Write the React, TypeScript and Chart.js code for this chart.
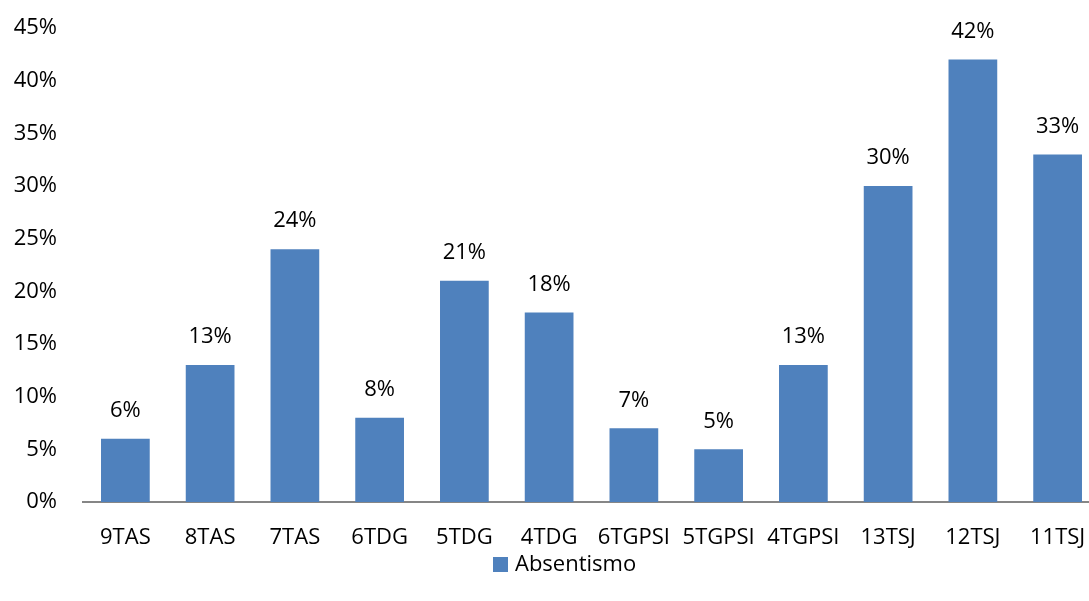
import React, { useEffect, useRef } from "react";
import { Chart, registerables } from "chart.js";

Chart.register(...registerables);

const categories = ["9TAS", "8TAS", "7TAS", "6TDG", "5TDG", "4TDG", "6TGPSI", "5TGPSI", "4TGPSI", "13TSJ", "12TSJ", "11TSJ"];
const absentismo = [6, 13, 24, 8, 21, 18, 7, 5, 13, 30, 42, 33];
const seriesName = "Absentismo";
const yTicks = [0, 5, 10, 15, 20, 25, 30, 35, 40, 45];

const FONT = "'Open Sans', 'Noto Sans', sans-serif";
const FS = 22;
const BAR_COLOR = "#4f81bd";

const dataLabels = {
  id: "dataLabels",
  afterDatasetsDraw(chart: any) {
    const ctx = chart.ctx;
    const meta = chart.getDatasetMeta(0);
    ctx.save();
    ctx.font = `${FS}px ${FONT}`;
    ctx.fillStyle = "#000";
    ctx.textAlign = "center";
    ctx.textBaseline = "middle";
    meta.data.forEach((bar: any, i: number) => {
      ctx.fillText(absentismo[i] + "%", bar.x, bar.y - 28);
    });
    ctx.restore();
  },
};

const bottomLegend = {
  id: "bottomLegend",
  afterDraw(chart: any) {
    const ctx = chart.ctx;
    const ds = chart.data.datasets[0];
    ctx.save();
    ctx.font = `${FS}px ${FONT}`;
    const x0 = 493;
    const yc = 565;
    ctx.fillStyle = ds.backgroundColor;
    ctx.fillRect(x0, yc - 8, 15, 15);
    ctx.fillStyle = "#000";
    ctx.textAlign = "left";
    ctx.textBaseline = "middle";
    ctx.fillText(ds.label, x0 + 22, yc);
    ctx.restore();
  },
};

export default function App() {
  const ref = useRef<HTMLCanvasElement>(null);
  useEffect(() => {
    document.body.style.margin = "0";
    document.body.style.overflow = "hidden";
    const chart = new Chart(ref.current!, {
      type: "bar",
      data: {
        labels: categories,
        datasets: [
          {
            label: seriesName,
            data: absentismo,
            backgroundColor: BAR_COLOR,
            borderWidth: 0,
            barPercentage: 0.575,
            categoryPercentage: 1,
          },
        ],
      },
      options: {
        animation: false,
        responsive: false,
        maintainAspectRatio: false,
        layout: { padding: { top: 28, right: 0, left: 0, bottom: 45 } },
        plugins: {
          legend: { display: false },
          tooltip: { enabled: false },
        },
        scales: {
          x: {
            grid: { display: false, drawTicks: false },
            border: { display: true, color: "#868686", width: 2 },
            ticks: { font: { family: FONT, size: FS }, color: "#000", padding: 23, maxRotation: 0 },
            afterFit: (s: any) => { s.height = 54; s.paddingLeft = 0; s.paddingRight = 0; },
          },
          y: {
            min: 0,
            max: 45,
            grid: { display: false, drawTicks: false },
            border: { display: false },
            afterBuildTicks: (s: any) => { s.ticks = yTicks.map((v) => ({ value: v })); },
            ticks: {
              font: { family: FONT, size: FS },
              color: "#000",
              padding: 26,
              callback: (v: any) => v + "%",
            },
            afterFit: (s: any) => { s.width = 83; s.paddingTop = 0; s.paddingBottom = 0; },
          },
        },
      },
      plugins: [dataLabels, bottomLegend],
    });
    return () => chart.destroy();
  }, []);
  return (
    <div style={{ width: 1089, height: 601, overflow: "hidden", position: "relative" }}>
      <canvas ref={ref} width={1100} height={601} style={{ position: "absolute", left: 0, top: 0 }} />
    </div>
  );
}
